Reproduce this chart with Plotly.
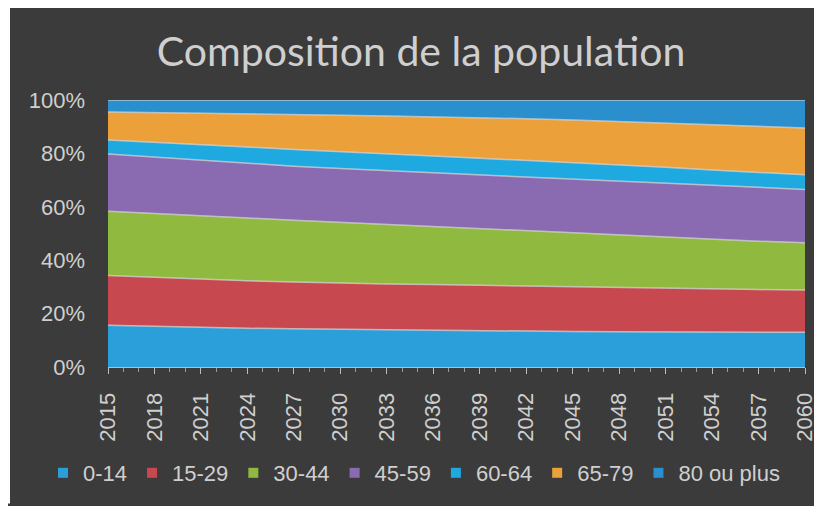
import plotly.graph_objects as go

years = [2015, 2018, 2021, 2024, 2027, 2030, 2033, 2036, 2039, 2042, 2045, 2048, 2051, 2054, 2057, 2060]
tick_labels = [str(y) for y in years]

series_names = ["0-14", "15-29", "30-44", "45-59", "60-64", "65-79", "80 ou plus"]

age_0_14 = [15.6, 15.2, 14.8, 14.5, 14.3, 14.1, 13.9, 13.7, 13.5, 13.4, 13.3, 13.2, 13.2, 13.1, 13.1, 13.0]
age_15_29 = [18.7, 18.4, 18.1, 17.8, 17.5, 17.3, 17.2, 17.2, 17.1, 17.0, 16.8, 16.6, 16.3, 16.1, 15.9, 15.8]
age_30_44 = [24.0, 23.8, 23.7, 23.5, 23.2, 22.8, 22.3, 21.7, 21.2, 20.6, 20.1, 19.5, 19.0, 18.6, 18.1, 17.7]
age_45_59 = [21.5, 21.2, 20.8, 20.4, 20.2, 20.1, 20.1, 20.1, 20.1, 20.1, 20.1, 20.2, 20.2, 20.1, 20.1, 20.0]
age_60_64 = [5.2, 5.6, 5.9, 6.2, 6.3, 6.3, 6.3, 6.3, 6.3, 6.3, 6.3, 6.2, 6.1, 5.9, 5.7, 5.5]
age_65_79 = [10.5, 11.1, 11.7, 12.4, 13.0, 13.7, 14.2, 14.7, 15.2, 15.6, 15.9, 16.2, 16.5, 16.9, 17.2, 17.5]
age_80_plus = [4.5, 4.7, 5.0, 5.2, 5.5, 5.7, 6.0, 6.3, 6.6, 7.0, 7.5, 8.1, 8.7, 9.3, 9.9, 10.5]

all_series = [age_0_14, age_15_29, age_30_44, age_45_59, age_60_64, age_65_79, age_80_plus]
colors = ["#2b9fd9", "#c8484f", "#8fba3f", "#8a6bb2", "#1ea9e1", "#eba03a", "#2a8fcc"]

BG = "#3b3b3b"
TXT = "#cfcfcf"
FONT = "Liberation Sans"

fig = go.Figure()
for name, vals, col in zip(series_names, all_series, colors):
    fig.add_trace(go.Scatter(
        x=years, y=vals, name=name, mode="lines",
        stackgroup="one", groupnorm="percent",
        line=dict(color="rgba(215,215,215,0.75)", width=1.5),
        fillcolor=col, showlegend=False,
    ))
# legend entries (square swatches, like the original legend)
for name, col in zip(series_names, colors):
    fig.add_trace(go.Scatter(
        x=[None], y=[None], name=name, mode="markers",
        marker=dict(symbol="square", size=10, color=col),
        showlegend=True,
    ))

W, H = 814, 498
L, R, T, B = 100, 17, 92, 134
pw, ph = W - L - R, H - T - B

def px_x(x):
    return (x - L) / pw

def px_y(y):
    return (H - B - y) / ph

fig.update_layout(
    width=W, height=H,
    margin=dict(l=L, r=R, t=T, b=B),
    paper_bgcolor=BG,
    plot_bgcolor=BG,
    title=dict(text="Composition de la population", x=413 / W, xanchor="center",
               y=1 - 44 / H, yanchor="middle",
               font=dict(family="Lato", size=41, color=TXT)),
    xaxis=dict(range=[2015, 2060], tickvals=years, ticktext=tick_labels,
               tickangle=-90, ticks="outside", ticklen=6, tickcolor="#bdbdbd",
               ticklabelstandoff=10, automargin=False,
               minor=dict(dtick=1, ticks="outside", ticklen=4, tickcolor="#9a9a9a"),
               showgrid=False, zeroline=False, showline=True, linecolor="#bdbdbd",
               tickfont=dict(family=FONT, size=22, color=TXT)),
    yaxis=dict(range=[0, 100], tickvals=[0, 20, 40, 60, 80, 100],
               ticktext=["0%", "20%", "40%", "60%", "80%", "100%"],
               showgrid=False, zeroline=False, showline=False, automargin=False,
               ticks="", ticklabelstandoff=22,
               tickfont=dict(family=FONT, size=22, color=TXT)),
    legend=dict(orientation="h", x=px_x(35), xanchor="left", y=px_y(472), yanchor="middle",
                font=dict(family=FONT, size=22, color=TXT),
                bgcolor="rgba(0,0,0,0)", traceorder="normal"),
    showlegend=True,
    shapes=[dict(type="rect", xref="paper", yref="paper",
                 x0=px_x(-5), x1=px_x(2), y0=px_y(H + 5), y1=px_y(-5),
                 fillcolor="white", line=dict(width=0), layer="below")],
)

fig.write_html("out.html")
